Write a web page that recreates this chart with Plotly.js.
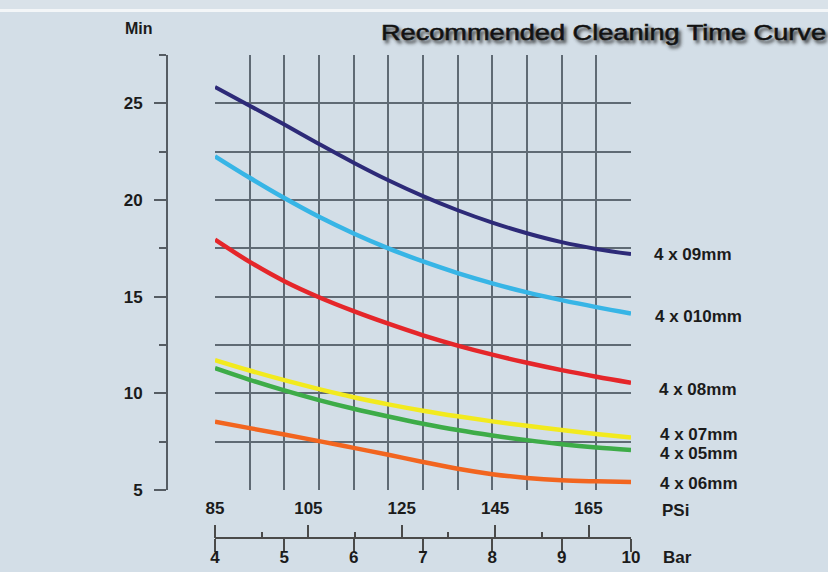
<!DOCTYPE html>
<html>
<head>
<meta charset="utf-8">
<script src="https://cdn.plot.ly/plotly-3.0.1.min.js"></script>
<style>
  html, body { margin: 0; padding: 0; background: #d3dee7; }
  #chart { width: 828px; height: 572px; }
  .gtitle { stroke: #161616; stroke-width: 0.55px; }
</style>
</head>
<body>
<div id="chart"></div>
<script>
// ---- data ----
const pressureBar = [4, 4.5, 5, 5.5, 6, 6.5, 7, 7.5, 8, 8.5, 9, 9.5, 10];
const nozzle09mm  = [25.85, 24.88, 23.9, 22.9, 21.93, 21.02, 20.2, 19.47, 18.83, 18.28, 17.82, 17.47, 17.2];
const nozzle010mm = [22.26, 21.15, 20.1, 19.13, 18.27, 17.5, 16.82, 16.22, 15.69, 15.22, 14.82, 14.46, 14.13];
const nozzle08mm  = [17.95, 16.8, 15.8, 14.97, 14.25, 13.6, 13.0, 12.47, 12.0, 11.58, 11.2, 10.86, 10.55];
const nozzle07mm  = [11.72, 11.18, 10.68, 10.22, 9.8, 9.43, 9.1, 8.81, 8.55, 8.32, 8.1, 7.9, 7.72];
const nozzle05mm  = [11.3, 10.7, 10.15, 9.65, 9.2, 8.8, 8.43, 8.1, 7.82, 7.58, 7.37, 7.2, 7.07];
const nozzle06mm  = [8.53, 8.2, 7.87, 7.53, 7.18, 6.82, 6.45, 6.1, 5.82, 5.62, 5.5, 5.45, 5.42];
const seriesNames = ['4 x 09mm', '4 x 010mm', '4 x 08mm', '4 x 07mm', '4 x 05mm', '4 x 06mm'];
const psiTicks = [85, 105, 125, 145, 165];
const psiMinorTicks = [95, 115, 135, 155];
const barTicks = [4, 5, 6, 7, 8, 9, 10];
const minTicks = [5, 10, 15, 20, 25];
const minMinorTicks = [7.5, 12.5, 17.5, 22.5, 27.5];

// ---- layout helpers (pixel -> paper) ----
const W = 828, H = 572, ML = 100, MT = 55, MB = 0, MR = 0;
const PW = W - ML - MR, PH = H - MT - MB;
const fx = px => (px - ML) / PW;
const fy = py => (H - MB - py) / PH;

const colors = ['#2d2a78', '#37b5e6', '#e5262a', '#f2ea1e', '#3dac48', '#f2651f'];
const seriesData = [nozzle09mm, nozzle010mm, nozzle08mm, nozzle07mm, nozzle05mm, nozzle06mm];
const labelPixelY = [254, 316.5, 389, 434, 453, 483.5];
const labelPixelX = [652, 653, 657, 658, 658, 658];

const traces = seriesData.map((ys, i) => ({
  type: 'scatter', mode: 'lines', x: pressureBar, y: ys, name: seriesNames[i],
  line: { color: colors[i], width: i === 0 ? 4 : 4.5, shape: 'spline', smoothing: 1 },
  xaxis: 'x', yaxis: 'y', showlegend: false, hoverinfo: 'skip'
}));
// empty traces to register the helper axes
traces.push({ type: 'scatter', x: [], y: [], xaxis: 'x2', yaxis: 'y', showlegend: false });
traces.push({ type: 'scatter', x: [], y: [], xaxis: 'x3', yaxis: 'y', showlegend: false });
traces.push({ type: 'scatter', x: [], y: [], xaxis: 'x4', yaxis: 'y', showlegend: false });

const gridColor = '#5f6a74';
const textColor = '#1b1b1b';
const labelFont = { family: 'Liberation Sans, Arial, sans-serif', size: 17, color: textColor, weight: 'bold' };
const xDomain = [fx(215), fx(631)];
const psiRange = [85, 174.1];

const annotations = seriesNames.map((t, i) => ({
  text: t, xref: 'paper', yref: 'paper', x: fx(labelPixelX[i]), y: fy(labelPixelY[i]),
  xanchor: 'left', yanchor: 'middle', showarrow: false, font: labelFont
}));
annotations.push({ text: 'Min', xref: 'paper', yref: 'paper', x: fx(139), y: fy(29),
  xanchor: 'center', yanchor: 'middle', showarrow: false,
  font: { family: 'Liberation Sans, Arial, sans-serif', size: 16, color: textColor, weight: 'bold' } });
annotations.push({ text: 'PSi', xref: 'paper', yref: 'paper', x: fx(660), y: fy(510),
  xanchor: 'left', yanchor: 'middle', showarrow: false, font: labelFont });
annotations.push({ text: 'Bar', xref: 'paper', yref: 'paper', x: fx(661), y: fy(557),
  xanchor: 'left', yanchor: 'middle', showarrow: false, font: labelFont });

const layout = {
  width: W, height: H,
  margin: { l: ML, r: MR, t: MT, b: MB, pad: 0 },
  paper_bgcolor: '#d3dee7', plot_bgcolor: 'rgba(0,0,0,0)',
  showlegend: false,
  title: {
    text: 'Recommended Cleaning Time Curve',
    xref: 'container', yref: 'container', x: 381 / W, y: 1 - 32 / H,
    xanchor: 'left', yanchor: 'middle',
    font: { family: 'Liberation Sans, Arial, sans-serif', size: 22, color: '#111111',
            shadow: '2px 3px 3px rgba(30,30,30,0.7)' }
  },
  xaxis: {
    domain: xDomain, range: [4, 10], anchor: 'y', dtick: 0.5, tick0: 4,
    showgrid: true, gridcolor: gridColor, gridwidth: 2,
    showticklabels: false, ticks: '', zeroline: false, showline: false
  },
  xaxis2: {
    domain: xDomain, range: psiRange, overlaying: 'x', anchor: 'y', side: 'bottom',
    tickvals: psiTicks, ticktext: psiTicks.map(String), ticks: '', showgrid: false,
    zeroline: false, showline: false, tickfont: labelFont, ticklabelstandoff: 6
  },
  xaxis3: {
    domain: xDomain, range: [4, 10], overlaying: 'x', anchor: 'free', position: fy(537.5),
    side: 'bottom', tickvals: barTicks, ticktext: barTicks.map(String),
    ticks: 'outside', ticklen: 13, tickwidth: 2, tickcolor: '#4a4a4a',
    showline: true, linecolor: '#4a4a4a', linewidth: 2.5,
    showgrid: false, zeroline: false, tickfont: labelFont, ticklabelstandoff: -9
  },
  xaxis4: {
    domain: xDomain, range: psiRange, overlaying: 'x', anchor: 'free', position: fy(537.5),
    side: 'top', tickvals: psiTicks, ticks: 'outside', ticklen: 13, tickwidth: 2, tickcolor: '#4a4a4a',
    showticklabels: false, showline: false, showgrid: false, zeroline: false,
    minor: { tickvals: psiMinorTicks, ticks: 'outside', ticklen: 6, tickwidth: 2, tickcolor: '#4a4a4a', showgrid: false }
  },
  yaxis: {
    domain: [fy(490), 1], range: [5, 27.5], anchor: 'free', position: fx(167), side: 'left',
    tickvals: minTicks, ticktext: minTicks.map(String),
    ticks: 'outside', ticklen: 12, tickwidth: 2, tickcolor: '#555c63',
    showline: true, linecolor: '#555c63', linewidth: 2,
    showgrid: true, gridcolor: gridColor, gridwidth: 2, zeroline: false,
    tickfont: labelFont, ticklabelstandoff: 8,
    minor: { tickvals: minMinorTicks, ticks: 'outside', ticklen: 7, tickwidth: 2, tickcolor: '#555c63',
             showgrid: true, gridcolor: gridColor, gridwidth: 2 }
  },
  annotations: annotations,
  shapes: [
    { type: 'rect', xref: 'paper', yref: 'paper', x0: fx(0), x1: fx(W), y0: fy(0), y1: fy(9),
      fillcolor: '#d9e2e9', line: { width: 0 }, layer: 'below' },
    { type: 'rect', xref: 'paper', yref: 'paper', x0: fx(0), x1: fx(W), y0: fy(9), y1: fy(12),
      fillcolor: '#f3f6f8', line: { width: 0 }, layer: 'below' }
  ]
};

Plotly.newPlot('chart', traces, layout, { staticPlot: true, displayModeBar: false }).then(() => {
  const t = document.querySelector('.gtitle');
  if (t) { t.setAttribute('textLength', '445'); t.setAttribute('lengthAdjust', 'spacingAndGlyphs'); }
});
</script>
</body>
</html>
